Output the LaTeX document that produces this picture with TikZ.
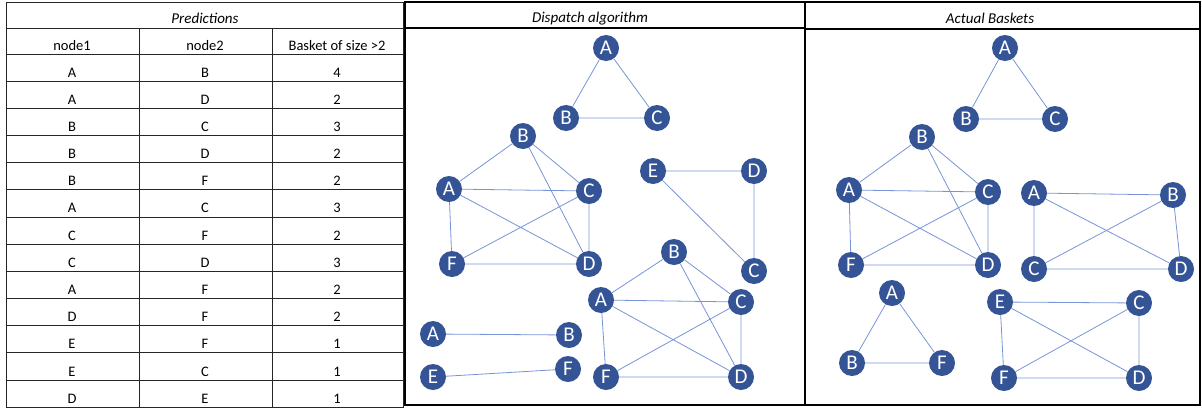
\documentclass[tikz,border=0pt]{standalone}
\usepackage{fontspec}
\setmainfont{Carlito}
\definecolor{nodeblue}{RGB}{52,84,150}
\definecolor{edgeblue}{RGB}{118,148,214}
\begin{document}
\begin{tikzpicture}[x=1pt, y=-1pt,
  vtx/.style={circle, fill=nodeblue, text=white, minimum size=26pt, inner sep=0pt, font=\fontsize{21}{21}\selectfont},
  edge/.style={draw=edgeblue, line width=0.8pt},
  cell/.style={anchor=base, font=\fontsize{14.5}{14.5}\selectfont},
  head/.style={anchor=base, font=\fontsize{15}{15}\selectfont\itshape}]

\useasboundingbox (0,0) rectangle (1202,410);

% predictions table
\draw[line width=1pt, black!85](6,2) rectangle (403,407);
\draw[line width=1pt, black!85](6,28)--(403,28);
\draw[line width=1pt, black!85](6,54)--(403,54);
\draw[line width=1pt, black!85](6,81)--(403,81);
\draw[line width=1pt, black!85](6,108)--(403,108);
\draw[line width=1pt, black!85](6,135)--(403,135);
\draw[line width=1pt, black!85](6,162)--(403,162);
\draw[line width=1pt, black!85](6,189)--(403,189);
\draw[line width=1pt, black!85](6,217)--(403,217);
\draw[line width=1pt, black!85](6,244)--(403,244);
\draw[line width=1pt, black!85](6,271)--(403,271);
\draw[line width=1pt, black!85](6,298)--(403,298);
\draw[line width=1pt, black!85](6,325)--(403,325);
\draw[line width=1pt, black!85](6,352)--(403,352);
\draw[line width=1pt, black!85](6,380)--(403,380);
\draw[line width=1pt, black!85](139,28)--(139,407);
\draw[line width=1pt, black!85](272,28)--(272,407);

\node[head] (ptitle) at (205,23) {Predictions};
\node[cell] (pnode1) at (72,50) {node1};
\node[cell] (pnode2) at (205,50) {node2};
\node[cell] (psize) at (337,50) {Basket of size >2};

\node[cell] (p1a) at (72,77) {A}; \node[cell] (p1b) at (205,77) {B}; \node[cell] (p1c) at (337,77) {4};
\node[cell] (p2a) at (72,104) {A}; \node[cell] (p2b) at (205,104) {D}; \node[cell] (p2c) at (337,104) {2};
\node[cell] (p3a) at (72,131) {B}; \node[cell] (p3b) at (205,131) {C}; \node[cell] (p3c) at (337,131) {3};
\node[cell] (p4a) at (72,158) {B}; \node[cell] (p4b) at (205,158) {D}; \node[cell] (p4c) at (337,158) {2};
\node[cell] (p5a) at (72,185) {B}; \node[cell] (p5b) at (205,185) {F}; \node[cell] (p5c) at (337,185) {2};
\node[cell] (p6a) at (72,212) {A}; \node[cell] (p6b) at (205,212) {C}; \node[cell] (p6c) at (337,212) {3};
\node[cell] (p7a) at (72,240) {C}; \node[cell] (p7b) at (205,240) {F}; \node[cell] (p7c) at (337,240) {2};
\node[cell] (p8a) at (72,267) {C}; \node[cell] (p8b) at (205,267) {D}; \node[cell] (p8c) at (337,267) {3};
\node[cell] (p9a) at (72,294) {A}; \node[cell] (p9b) at (205,294) {F}; \node[cell] (p9c) at (337,294) {2};
\node[cell] (p10a) at (72,321) {D}; \node[cell] (p10b) at (205,321) {F}; \node[cell] (p10c) at (337,321) {2};
\node[cell] (p11a) at (72,348) {E}; \node[cell] (p11b) at (205,348) {F}; \node[cell] (p11c) at (337,348) {1};
\node[cell] (p12a) at (72,376) {E}; \node[cell] (p12b) at (205,376) {C}; \node[cell] (p12c) at (337,376) {1};
\node[cell] (p13a) at (72,403) {D}; \node[cell] (p13b) at (205,403) {E}; \node[cell] (p13c) at (337,403) {1};

% dispatch algorithm panel
\draw[line width=1.2pt](405,2) rectangle (805,405);
\draw[line width=1.2pt](405,28)--(805,28);
\node[head] (mtitle) at (590,22) {Dispatch algorithm};

\node[vtx] (m1a) at (606,48) {A};
\node[vtx] (m1b) at (566,118) {B};
\node[vtx] (m1c) at (657,118) {C};
\draw[edge] (m1a)--(m1b)--(m1c)--(m1a);

\node[vtx] (m2b) at (523,136) {B};
\node[vtx] (m2a) at (449,189) {A};
\node[vtx] (m2c) at (589,191) {C};
\node[vtx] (m2f) at (452,264) {F};
\node[vtx] (m2d) at (589,264) {D};
\draw[edge] (m2b)--(m2a)--(m2c)--(m2b)--(m2d)--(m2f)--(m2a)--(m2d)--(m2c)--(m2f);

\node[vtx] (m3e) at (653,171) {E};
\node[vtx] (m3d) at (754,171) {D};
\node[vtx] (m3c) at (754,271) {C};
\draw[edge] (m3e)--(m3d)--(m3c)--(m3e);

\node[vtx] (m4b) at (674,252) {B};
\node[vtx] (m4a) at (601,300) {A};
\node[vtx] (m4c) at (741,302) {C};
\node[vtx] (m4f) at (606,377) {F};
\node[vtx] (m4d) at (741,377) {D};
\draw[edge] (m4b)--(m4a)--(m4c)--(m4b)--(m4d)--(m4f)--(m4a)--(m4d)--(m4c)--(m4f);

\node[vtx] (m5a) at (433,334) {A};
\node[vtx] (m5b) at (569,335) {B};
\draw[edge] (m5a)--(m5b);

\node[vtx] (m6e) at (433,377) {E};
\node[vtx] (m6f) at (568,369) {F};
\draw[edge] (m6e)--(m6f);

% actual baskets panel
\draw[line width=1.2pt](805,2) rectangle (1200,405);
\draw[line width=1.2pt](805,29)--(1200,29);
\node[head] (rtitle) at (990,23) {Actual Baskets};

\node[vtx] (r1a) at (1005,48) {A};
\node[vtx] (r1b) at (966,119) {B};
\node[vtx] (r1c) at (1055,119) {C};
\draw[edge] (r1a)--(r1b)--(r1c)--(r1a);

\node[vtx] (r2b) at (922,137) {B};
\node[vtx] (r2a) at (849,190) {A};
\node[vtx] (r2c) at (988,192) {C};
\node[vtx] (r2f) at (851,265) {F};
\node[vtx] (r2d) at (988,265) {D};
\draw[edge] (r2b)--(r2a)--(r2c)--(r2b)--(r2d)--(r2f)--(r2a)--(r2d)--(r2c)--(r2f);

\node[vtx] (r3a) at (1034,193) {A};
\node[vtx] (r3b) at (1173,195) {B};
\node[vtx] (r3c) at (1034,269) {C};
\node[vtx] (r3d) at (1181,269) {D};
\draw[edge] (r3a)--(r3b)--(r3d)--(r3c)--(r3a)--(r3d);
\draw[edge] (r3b)--(r3c);

\node[vtx] (r4a) at (892,293) {A};
\node[vtx] (r4b) at (852,363) {B};
\node[vtx] (r4f) at (942,363) {F};
\draw[edge] (r4a)--(r4b)--(r4f)--(r4a);

\node[vtx] (r5e) at (1000,302) {E};
\node[vtx] (r5c) at (1139,303) {C};
\node[vtx] (r5f) at (1004,378) {F};
\node[vtx] (r5d) at (1139,378) {D};
\draw[edge] (r5e)--(r5c)--(r5d)--(r5f)--(r5e)--(r5d);
\draw[edge] (r5c)--(r5f);

\end{tikzpicture}
\end{document}
